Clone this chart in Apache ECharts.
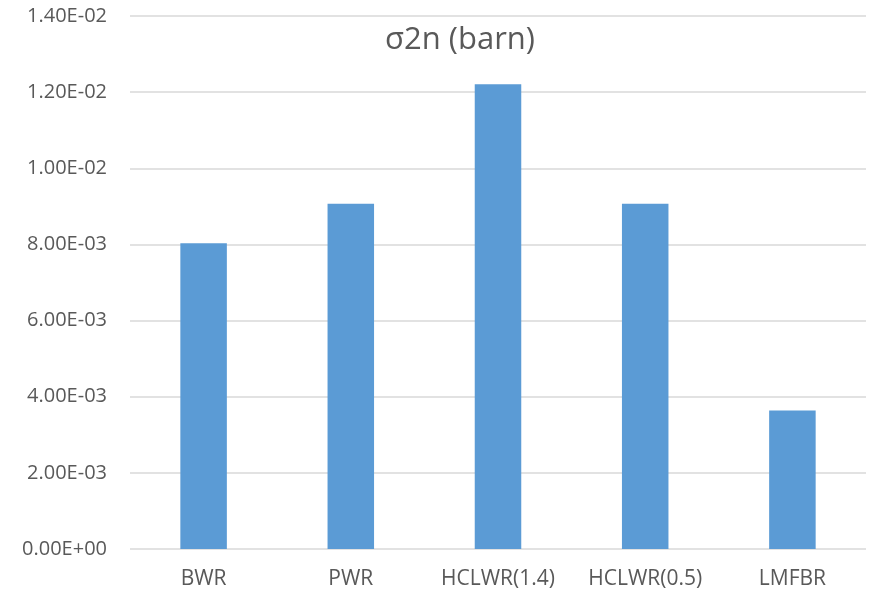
<!DOCTYPE html>
<html>
<head>
<meta charset="utf-8">
<script src="https://cdn.jsdelivr.net/npm/echarts@6/dist/echarts.min.js"></script>
<style>
  html, body { margin: 0; padding: 0; background: #fff; }
  #chart { width: 876px; height: 594px; }
</style>
</head>
<body>
<div id="chart"></div>
<script>
// Reactor types and their σ2n cross sections (barn)
const categories = ['BWR', 'PWR', 'HCLWR(1.4)', 'HCLWR(0.5)', 'LMFBR'];
const sigma2n = [0.00803, 0.00907, 0.01221, 0.00907, 0.00364];
const yTicks = { min: 0, max: 0.014, interval: 0.002 };

// Scientific label with a two-digit exponent, e.g. 1.40E-02
function sci(v) {
  if (v === 0) return '0.00E+00';
  const [m, e] = v.toExponential(2).split('e');
  const n = parseInt(e, 10);
  const sign = n < 0 ? '-' : '+';
  const abs = Math.abs(n);
  return m + 'E' + sign + (abs < 10 ? '0' + abs : String(abs));
}

const font = 'Open Sans';
const chart = echarts.init(document.getElementById('chart'));
chart.setOption({
  animation: false,
  backgroundColor: '#ffffff',
  title: {
    text: 'σ2n (barn)',
    left: 455,
    top: 20,
    textAlign: 'center',
    textStyle: { fontFamily: font, fontSize: 31, fontWeight: 'normal', color: '#595959' }
  },
  grid: { left: 130, right: 10, top: 16, bottom: 45 },
  xAxis: {
    type: 'category',
    data: categories,
    axisLine: { show: false },
    axisTick: { show: false },
    axisLabel: { interval: 0, hideOverlap: false, margin: 20, fontFamily: font, fontSize: 21, color: '#595959' }
  },
  yAxis: {
    type: 'value',
    min: yTicks.min,
    max: yTicks.max,
    interval: yTicks.interval,
    axisLine: { show: false },
    axisTick: { show: false },
    splitLine: { lineStyle: { color: '#d9d9d9', width: 1.5 } },
    axisLabel: { margin: 23, fontFamily: font, fontSize: 20, color: '#595959', formatter: sci }
  },
  series: [{
    type: 'bar',
    data: sigma2n,
    barWidth: '31.6%',
    itemStyle: { color: '#5b9bd5' }
  }]
});
</script>
</body>
</html>
